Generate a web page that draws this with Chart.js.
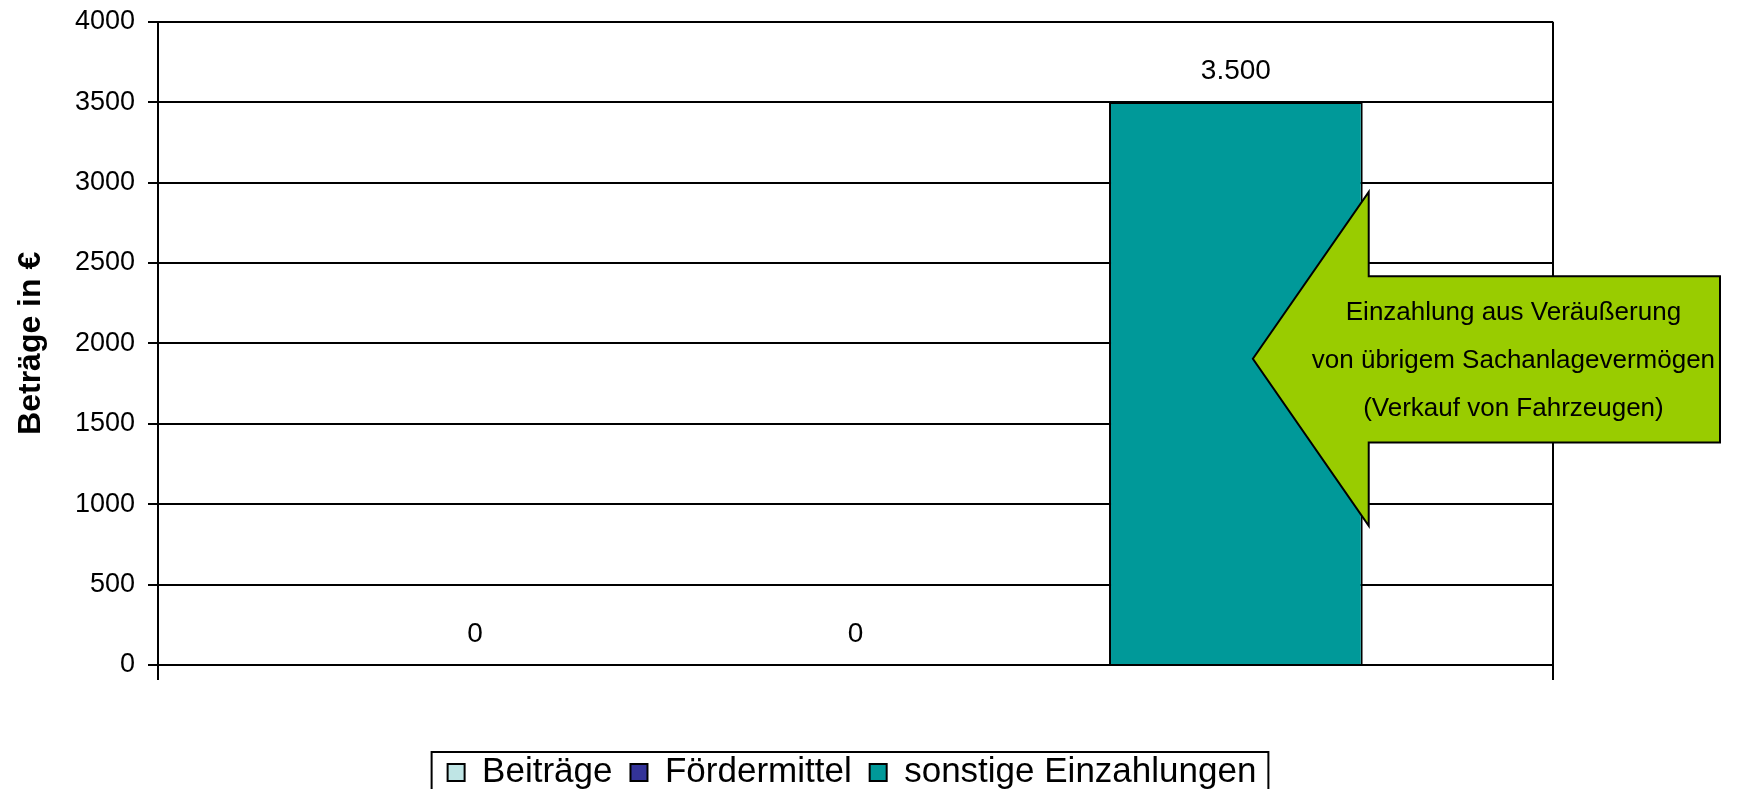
<!DOCTYPE html>
<html>
<head>
<meta charset="utf-8">
<script src="https://cdn.jsdelivr.net/npm/chart.js@4/dist/chart.umd.min.js"></script>
<style>
html,body{margin:0;padding:0;background:#ffffff;}
#wrap{width:1740px;height:789px;position:relative;}
</style>
</head>
<body>
<div id="wrap"><canvas id="c"></canvas></div>
<script>
// ---- data ----
const categories = [''];
const seriesNames = ['Beiträge', 'Fördermittel', 'sonstige Einzahlungen'];
const beitraege = [0];
const foerdermittel = [0];
const sonstigeEinzahlungen = [3500];
const yTicks = [0, 500, 1000, 1500, 2000, 2500, 3000, 3500, 4000];
const yTitle = 'Beträge in €';
const calloutLines = ['Einzahlung aus Veräußerung', 'von übrigem Sachanlagevermögen', '(Verkauf von Fahrzeugen)'];
// callout arrow anchor values (in axis units)
const calloutValues = { headTop: 2941, shaftTop: 2417, tip: 1904, shaftBottom: 1383, headBottom: 866 };
const calloutLineValues = [2192, 1892, 1595];

const seriesColors = ['#BFE5E5', '#333399', '#009999'];
const FONT = "'Liberation Sans', Arial, Helvetica, sans-serif";

function fmtDE(v) {
  const s = Math.round(v).toString();
  return s.replace(/\B(?=(\d{3})+(?!\d))/g, '.');
}

const dataLabels = {
  id: 'dataLabels',
  afterDatasetsDraw(chart) {
    const ctx = chart.ctx;
    ctx.save();
    ctx.font = '28px ' + FONT;
    ctx.fillStyle = '#000';
    ctx.textAlign = 'center';
    ctx.textBaseline = 'middle';
    chart.data.datasets.forEach((ds, i) => {
      const meta = chart.getDatasetMeta(i);
      meta.data.forEach((bar, j) => {
        ctx.fillText(fmtDE(ds.data[j]), bar.x, bar.y - 31);
      });
    });
    ctx.restore();
  }
};

const callout = {
  id: 'callout',
  afterDraw(chart) {
    const ctx = chart.ctx;
    const ys = chart.scales.y;
    const bar = chart.getDatasetMeta(2).data[0];
    const tipX = bar.x + 17;
    const headX = bar.x + bar.width / 2 + 6;
    const endX = chart.width - 20;
    const yp = v => ys.getPixelForValue(v);
    ctx.save();
    ctx.beginPath();
    ctx.moveTo(tipX, yp(calloutValues.tip));
    ctx.lineTo(headX, yp(calloutValues.headTop));
    ctx.lineTo(headX, yp(calloutValues.shaftTop));
    ctx.lineTo(endX, yp(calloutValues.shaftTop));
    ctx.lineTo(endX, yp(calloutValues.shaftBottom));
    ctx.lineTo(headX, yp(calloutValues.shaftBottom));
    ctx.lineTo(headX, yp(calloutValues.headBottom));
    ctx.closePath();
    ctx.fillStyle = '#99CC00';
    ctx.fill();
    ctx.lineWidth = 2;
    ctx.strokeStyle = '#000';
    ctx.stroke();
    ctx.font = '26px ' + FONT;
    ctx.fillStyle = '#000';
    ctx.textAlign = 'center';
    ctx.textBaseline = 'middle';
    const tx = (tipX + endX) / 2 + 27;
    calloutLines.forEach((t, i) => ctx.fillText(t, tx, yp(calloutLineValues[i])));
    ctx.restore();
  }
};

const legendBorder = {
  id: 'legendBorder',
  afterDraw(chart) {
    const lg = chart.legend;
    if (!lg || !lg.legendHitBoxes || !lg.legendHitBoxes.length) return;
    const hb = lg.legendHitBoxes;
    const left = Math.min(...hb.map(h => h.left)) - 16;
    const right = Math.max(...hb.map(h => h.left + h.width)) + 12;
    const top = 752;
    const ctx = chart.ctx;
    ctx.save();
    ctx.lineWidth = 2;
    ctx.strokeStyle = '#000';
    ctx.strokeRect(left, top, right - left, 100);
    ctx.restore();
  }
};

const gridColor = '#000';
new Chart(document.getElementById('c'), {
  type: 'bar',
  data: {
    labels: categories,
    datasets: [
      { label: seriesNames[0], data: beitraege, backgroundColor: seriesColors[0], borderColor: '#000', borderWidth: 2 },
      { label: seriesNames[1], data: foerdermittel, backgroundColor: seriesColors[1], borderColor: '#000', borderWidth: 2 },
      { label: seriesNames[2], data: sonstigeEinzahlungen, backgroundColor: seriesColors[2], borderColor: '#000', borderWidth: 2 }
    ]
  },
  options: {
    responsive: true,
    maintainAspectRatio: false,
    animation: false,
    categoryPercentage: 0.818,
    barPercentage: 0.667,
    layout: { padding: { top: 21.7, right: 36, bottom: -11, left: 0 } },
    plugins: {
      legend: {
        position: 'bottom',
        labels: {
          font: { size: 35, family: FONT },
          color: '#000',
          boxWidth: 17,
          boxHeight: 17,
          padding: 18
        }
      },
      tooltip: { enabled: false }
    },
    scales: {
      x: {
        grid: { display: true, offset: true, color: gridColor, lineWidth: 2, tickLength: 15, drawOnChartArea: true },
        border: { display: false },
        ticks: { display: false },
        afterFit(s) { s.height = 72; }
      },
      y: {
        min: yTicks[0],
        max: yTicks[yTicks.length - 1],
        ticks: { stepSize: yTicks[1] - yTicks[0], color: '#000', font: { size: 27, family: FONT }, padding: 13,
                 callback: v => String(v) },
        grid: { color: gridColor, lineWidth: 2, tickLength: 10 },
        border: { display: true, color: '#000', width: 2 },
        title: { display: true, text: yTitle, color: '#000', font: { size: 32, weight: 'bold', family: FONT }, padding: { top: 12, bottom: 0 } },
        afterFit(s) { s.width = 158; s.paddingTop = 0; s.paddingBottom = 0; }
      },
      y2: {
        type: 'linear',
        position: 'right',
        display: true,
        grid: { display: false },
        border: { display: false },
        ticks: { display: false },
        afterFit(s) { s.width = 151; s.paddingTop = 0; s.paddingBottom = 0; }
      }
    }
  },
  plugins: [dataLabels, callout, legendBorder]
});
</script>
</body>
</html>
